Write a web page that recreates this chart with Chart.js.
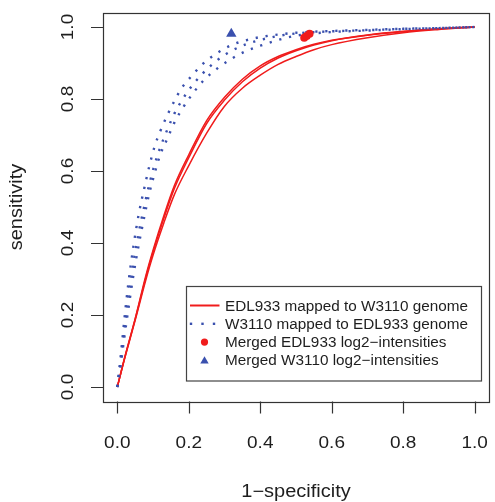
<!DOCTYPE html>
<html>
<head>
<meta charset="utf-8">
<script src="https://cdn.jsdelivr.net/npm/chart.js@4.4.0/dist/chart.umd.min.js"></script>
<style>
  html, body { margin: 0; padding: 0; background: #fff; }
  #wrap { position: relative; width: 495px; height: 502px; }
</style>
</head>
<body>
<div id="wrap"><canvas id="roc" width="495" height="502"></canvas></div>
<script>
// ROC curves (1-specificity vs sensitivity)
const redFpr = [0, 0.02, 0.05, 0.08, 0.1, 0.13, 0.16, 0.2, 0.25, 0.3, 0.35, 0.4, 0.45, 0.5, 0.55, 0.6, 0.7, 0.8, 0.9, 1.0];
const redSens1 = [0, 0.08, 0.19, 0.31, 0.38, 0.475, 0.56, 0.645, 0.74, 0.805, 0.855, 0.892, 0.918, 0.937, 0.952, 0.963, 0.978, 0.988, 0.995, 1];
const redSens2 = [0, 0.078, 0.188, 0.305, 0.375, 0.468, 0.552, 0.637, 0.732, 0.797, 0.848, 0.886, 0.914, 0.934, 0.95, 0.962, 0.977, 0.987, 0.995, 1];
const redSens3 = [0, 0.077, 0.185, 0.298, 0.366, 0.455, 0.535, 0.615, 0.705, 0.78, 0.83, 0.866, 0.896, 0.918, 0.937, 0.951, 0.97, 0.984, 0.993, 1];

const blueFpr = [0, 0.01, 0.02, 0.03, 0.045, 0.06, 0.075, 0.09, 0.105, 0.12, 0.14, 0.16, 0.18, 0.2, 0.24, 0.28, 0.32, 0.36, 0.4, 0.45, 0.5, 0.6, 0.7, 0.8, 0.9, 1];
const blueSens1 = [0, 0.09, 0.19, 0.28, 0.39, 0.48, 0.55, 0.615, 0.67, 0.71, 0.755, 0.795, 0.83, 0.855, 0.898, 0.928, 0.95, 0.963, 0.972, 0.979, 0.984, 0.989, 0.992, 0.995, 0.997, 1];
const blueSens2 = [0, 0.075, 0.16, 0.24, 0.345, 0.43, 0.5, 0.565, 0.62, 0.665, 0.715, 0.76, 0.795, 0.825, 0.872, 0.908, 0.934, 0.952, 0.964, 0.975, 0.982, 0.988, 0.991, 0.995, 0.997, 1];
const blueSens3 = [0, 0.065, 0.14, 0.21, 0.31, 0.395, 0.47, 0.54, 0.595, 0.645, 0.69, 0.735, 0.77, 0.8, 0.85, 0.885, 0.912, 0.933, 0.948, 0.964, 0.976, 0.986, 0.99, 0.994, 0.997, 1];

const mergedEdlFpr = [0.523, 0.530, 0.538];
const mergedEdlSens = [0.970, 0.975, 0.981];
const mergedW3110Fpr = [0.319];
const mergedW3110Sens = [0.981];

const tickValues = [0, 0.2, 0.4, 0.6, 0.8, 1.0];
const tickLabels = ["0.0", "0.2", "0.4", "0.6", "0.8", "1.0"];
const xTitle = "1\u2212specificity";
const yTitle = "sensitivity";
const legendLabels = [
  "EDL933 mapped to W3110 genome",
  "W3110 mapped to EDL933 genome",
  "Merged EDL933 log2\u2212intensities",
  "Merged W3110 log2\u2212intensities"
];

const RED = "#f01c1c";
const BLUE = "#3a50ae";
const FONT = '"Liberation Sans", Arial, Helvetica, sans-serif';

function pts(xs, ys) {
  return xs.map((x, i) => ({ x: x, y: ys[i] }));
}

function redLine(ys) {
  return {
    data: pts(redFpr, ys), showLine: true, borderColor: RED, borderWidth: 1.5,
    pointRadius: 0, fill: false, cubicInterpolationMode: "monotone", order: 3
  };
}
function blueLine(ys) {
  return {
    data: pts(blueFpr, ys), showLine: true, borderColor: BLUE, borderWidth: 2.4,
    borderDash: [2.2, 7.8], borderCapStyle: "butt", pointRadius: 0, fill: false,
    cubicInterpolationMode: "monotone", order: 2
  };
}

// R-like text, slightly flattened glyphs
function txt(ctx, s, x, y, size, k, align, rot) {
  ctx.save();
  ctx.translate(x, y);
  if (rot) ctx.rotate(rot);
  ctx.scale(1, k);
  ctx.font = size + "px " + FONT;
  ctx.textAlign = align;
  ctx.textBaseline = "alphabetic";
  ctx.fillStyle = "#1e1e1e";
  ctx.fillText(s, 0, 0);
  ctx.restore();
}

const rAxes = {
  id: "rAxes",
  afterDraw(chart) {
    const ctx = chart.ctx;
    const a = chart.chartArea;
    const xs = chart.scales.x, ys = chart.scales.y;
    ctx.save();
    ctx.strokeStyle = "#333";
    ctx.lineWidth = 1.2;
    ctx.strokeRect(Math.round(a.left) + 0.5, Math.round(a.top) + 0.5,
      Math.round(a.right - a.left), Math.round(a.bottom - a.top));

    // ticks
    ctx.beginPath();
    tickValues.forEach(v => {
      const px = Math.round(xs.getPixelForValue(v)) + 0.5;
      ctx.moveTo(px, a.bottom); ctx.lineTo(px, a.bottom + 12);
      const py = Math.round(ys.getPixelForValue(v)) + 0.5;
      ctx.moveTo(a.left, py); ctx.lineTo(a.left - 12, py);
    });
    ctx.stroke();

    tickValues.forEach((v, i) => {
      txt(ctx, tickLabels[i], xs.getPixelForValue(v), 447.5, 19, 0.88, "center");
      txt(ctx, tickLabels[i], 72.5, ys.getPixelForValue(v), 19, 0.88, "center", -Math.PI / 2);
    });
    txt(ctx, xTitle, (a.left + a.right) / 2, 497, 20, 0.88, "center");
    txt(ctx, yTitle, 22, (a.top + a.bottom) / 2, 20, 0.88, "center", -Math.PI / 2);

    // legend box
    const lx = 186.5, ly = 286.5, lw = 295, lh = 94.5;
    ctx.fillStyle = "#fff";
    ctx.fillRect(lx, ly, lw, lh);
    ctx.strokeStyle = "#444";
    ctx.lineWidth = 1.2;
    ctx.strokeRect(lx, ly, lw, lh);

    const base = [310.5, 328.8, 347.1, 365.4];
    const cx = 204.5;
    // row 1: solid red line
    ctx.strokeStyle = RED; ctx.lineWidth = 2;
    ctx.beginPath(); ctx.moveTo(190, base[0] - 5); ctx.lineTo(219.5, base[0] - 5); ctx.stroke();
    // row 2: blue dots
    ctx.fillStyle = BLUE;
    [191, 202.5, 214].forEach(dx => ctx.fillRect(dx - 1.2, base[1] - 6.2, 2.4, 2.4));
    // row 3: red circle
    ctx.fillStyle = RED;
    ctx.beginPath(); ctx.arc(cx, base[2] - 5, 3.6, 0, Math.PI * 2); ctx.fill();
    // row 4: blue triangle
    ctx.fillStyle = BLUE;
    const ty = base[3] - 5;
    ctx.beginPath();
    ctx.moveTo(cx, ty - 4.2); ctx.lineTo(cx + 4.2, ty + 3); ctx.lineTo(cx - 4.2, ty + 3);
    ctx.closePath(); ctx.fill();

    legendLabels.forEach((s, i) => txt(ctx, s, 225, base[i], 15.3, 0.96, "left"));
    ctx.restore();
  }
};

new Chart(document.getElementById("roc"), {
  type: "scatter",
  data: {
    datasets: [
      {
        data: pts(mergedW3110Fpr, mergedW3110Sens), pointStyle: "triangle",
        pointRadius: 6, backgroundColor: BLUE, borderColor: BLUE, borderWidth: 0, order: 0
      },
      {
        data: pts(mergedEdlFpr, mergedEdlSens), pointStyle: "circle",
        pointRadius: 4, backgroundColor: RED, borderColor: RED, borderWidth: 0, order: 1
      },
      blueLine(blueSens1),
      blueLine(blueSens2),
      blueLine(blueSens3),
      redLine(redSens1),
      redLine(redSens2),
      redLine(redSens3)
    ]
  },
  options: {
    responsive: false,
    animation: false,
    devicePixelRatio: 1,
    layout: { padding: { left: 103, right: 3, top: 12.6, bottom: 100.6 } },
    plugins: { legend: { display: false }, tooltip: { enabled: false } },
    scales: {
      x: { type: "linear", min: -0.04, max: 1.04, display: false },
      y: { type: "linear", min: -0.04, max: 1.04, display: false }
    }
  },
  plugins: [rAxes]
});
</script>
</body>
</html>
